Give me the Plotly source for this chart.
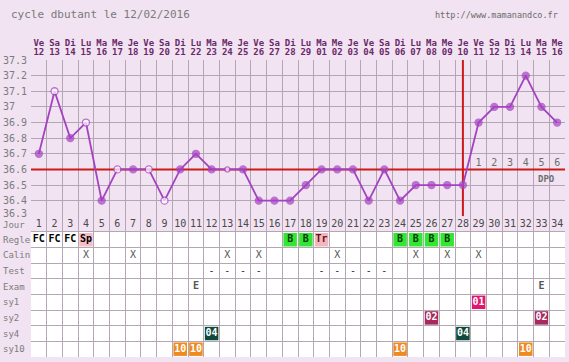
import plotly.graph_objects as go

# ---------------- data ----------------
cycle_days = [1, 2, 3, 4, 5, 6, 7, 8, 9, 10, 11, 12, 13, 14, 15, 16, 17,
              18, 19, 20, 21, 22, 23, 24, 25, 26, 27, 28, 29, 30, 31, 32, 33, 34]
weekdays = ["Ve", "Sa", "Di", "Lu", "Ma", "Me", "Je", "Ve", "Sa", "Di", "Lu", "Ma",
            "Me", "Je", "Ve", "Sa", "Di", "Lu", "Ma", "Me", "Je", "Ve", "Sa", "Di",
            "Lu", "Ma", "Me", "Je", "Ve", "Sa", "Di", "Lu", "Ma", "Me"]
dates = ["12", "13", "14", "15", "16", "17", "18", "19", "20", "21", "22", "23",
         "24", "25", "26", "27", "28", "29", "01", "02", "03", "04", "05", "06",
         "07", "08", "09", "10", "11", "12", "13", "14", "15", "16"]
temps = [36.7, 37.1, 36.8, 36.9, 36.4, 36.6, 36.6, 36.6, 36.4, 36.6, 36.7, 36.6,
         36.6, 36.6, 36.4, 36.4, 36.4, 36.5, 36.6, 36.6, 36.6, 36.4, 36.6, 36.4,
         36.5, 36.5, 36.5, 36.5, 36.9, 37.0, 37.0, 37.2, 37.0, 36.9]
open_marker_days = [2, 4, 6, 8, 9, 13]
temp_ticks = [37.3, 37.2, 37.1, 37.0, 36.9, 36.8, 36.7, 36.6, 36.5, 36.4, 36.3]
temp_ticktext = ["37.3", "37.2", "37.1", "37", "36.9", "36.8", "36.7", "36.6", "36.5", "36.4", "36.3"]
coverline = 36.6
ovulation_day = 28
dpo_days = [29, 30, 31, 32, 33, 34]
dpo_labels = ["1", "2", "3", "4", "5", "6"]

title_text = "cycle dbutant le 12/02/2016"
site_text = "http://www.mamanandco.fr"

row_names = ["Jour", "Regle", "Calin", "Test", "Exam", "sy1", "sy2", "sy4", "sy10"]
regle_days = [1, 2, 3, 4, 17, 18, 19, 24, 25, 26, 27]
regle_vals = ["FC", "FC", "FC", "Sp", "B", "B", "Tr", "B", "B", "B", "B"]
calin_days = [4, 7, 13, 15, 20, 25, 27, 29]
test_days = [12, 13, 14, 15, 19, 20, 21, 22, 23]
exam_days = [11, 33]
sy1_days = [29]
sy2_days = [26, 33]
sy4_days = [12, 28]
sy10_days = [10, 11, 24, 32]

# ---------------- styles ----------------
BG = "#F1E3F1"
GRID = "#B5A6B5"
PURPLE = "#A443C2"
RED = "#CC1A1A"
MONO = "DejaVu Sans Mono"
cell_style = {
    "FC": (None, "#000000"),
    "Sp": ("#F5BEC6", "#000000"),
    "B": ("#33E633", "#0B3D0B"),
    "Tr": ("#F2B6BE", "#6A1010"),
    "X": (None, "#555555"),
    "-": (None, "#333333"),
    "E": (None, "#555555"),
    "01": ("#E0176F", "#FFFFFF"),
    "02": ("#A62A5E", "#FFFFFF"),
    "04": ("#0E4A3D", "#FFFFFF"),
    "10": ("#EE8A1E", "#FFFFFF"),
}

# table cells as (row, days, labels)
table_rows = [
    (1, regle_days, regle_vals),
    (2, calin_days, ["X"] * len(calin_days)),
    (3, test_days, ["-"] * len(test_days)),
    (4, exam_days, ["E"] * len(exam_days)),
    (5, sy1_days, ["01"] * len(sy1_days)),
    (6, sy2_days, ["02"] * len(sy2_days)),
    (7, sy4_days, ["04"] * len(sy4_days)),
    (8, sy10_days, ["10"] * len(sy10_days)),
]

fig = go.Figure()

# red reference lines
fig.add_trace(go.Scatter(x=[cycle_days[0] - 0.5, cycle_days[-1] + 0.5], y=[coverline, coverline],
                         mode="lines", line=dict(color=RED, width=2), hoverinfo="skip",
                         xaxis="x", yaxis="y", showlegend=False))
fig.add_trace(go.Scatter(x=[ovulation_day, ovulation_day], y=[temp_ticks[-1], temp_ticks[0]],
                         mode="lines", line=dict(color=RED, width=2), hoverinfo="skip",
                         xaxis="x", yaxis="y", showlegend=False))

# temperature curve
mfill = ["#FFFFFF" if d in open_marker_days else PURPLE for d in cycle_days]
msize = [5 if d == 13 else 7 for d in cycle_days]
fig.add_trace(go.Scatter(x=cycle_days, y=temps, mode="lines+markers",
                         line=dict(color=PURPLE, width=1.8),
                         marker=dict(color=mfill, size=msize, line=dict(color=PURPLE, width=1.3)),
                         xaxis="x", yaxis="y", showlegend=False))

# DPO labels
fig.add_trace(go.Scatter(x=dpo_days, y=[coverline + 0.035] * len(dpo_days), mode="text",
                         text=dpo_labels, textfont=dict(family=MONO, size=10, color="#6E6E6E"),
                         xaxis="x", yaxis="y", showlegend=False, hoverinfo="skip"))
fig.add_trace(go.Scatter(x=[33.3], y=[coverline - 0.065], mode="text", text=["DPO"],
                         textfont=dict(family=MONO, size=9, color="#6E6E6E", weight="bold"),
                         xaxis="x", yaxis="y", showlegend=False, hoverinfo="skip"))

# table: white background
shapes = [dict(type="rect", xref="x", yref="y2", x0=cycle_days[0] - 0.5, x1=cycle_days[-1] + 0.5,
               y0=0.5, y1=len(row_names) - 0.5, fillcolor="#FFFFFF", line=dict(width=0), layer="below")]

# day number row
fig.add_trace(go.Scatter(x=cycle_days, y=[0] * len(cycle_days), mode="text",
                         text=[str(d) for d in cycle_days],
                         textfont=dict(family=MONO, size=10, color="#4A4A4A"),
                         xaxis="x", yaxis="y2", showlegend=False, hoverinfo="skip"))

ins = 0.07
for row, ds, labs in table_rows:
    colors = []
    for d, lab in zip(ds, labs):
        fill, tcol = cell_style[lab]
        colors.append(tcol)
        if fill:
            shapes.append(dict(type="rect", xref="x", yref="y2", x0=d - 0.5 + ins, x1=d + 0.5 - ins,
                               y0=row - 0.5 + ins, y1=row + 0.5 - ins, fillcolor=fill,
                               line=dict(width=0), layer="below"))
    bold = row in (1, 4, 5, 6, 7, 8)
    fig.add_trace(go.Scatter(x=ds, y=[row] * len(ds), mode="text", text=labs,
                             textfont=dict(family=MONO, size=10, color=colors,
                                           weight="bold" if bold else "normal"),
                             xaxis="x", yaxis="y2", showlegend=False, hoverinfo="skip"))

annotations = []
W = 534.0
H = 297.0
def px_x(px):
    return (px - 31) / W
def px_y(py):
    return (357 - py) / H

for t, lab in zip(temp_ticks, temp_ticktext):
    annotations.append(dict(x=px_x(1), xref="paper", y=t, yref="y", text=lab, showarrow=False,
                            xanchor="left", yanchor="middle",
                            yshift=3 if t == temp_ticks[-1] else 0,
                            font=dict(family=MONO, size=10, color="#7C7C7C")))
for i, name in enumerate(row_names):
    annotations.append(dict(x=px_x(1), xref="paper", y=i, yref="y2", text=name, showarrow=False,
                            xanchor="left", yanchor="middle",
                            yshift=-1 if i == 0 else 0,
                            font=dict(family=MONO, size=9, color="#7C7C7C")))
annotations.append(dict(x=px_x(9), xref="paper", y=px_y(15), yref="paper", text=title_text,
                        showarrow=False, xanchor="left", yanchor="middle",
                        font=dict(family=MONO, size=11, color="#7A7A7A")))
annotations.append(dict(x=px_x(560), xref="paper", y=px_y(15), yref="paper", text=site_text,
                        showarrow=False, xanchor="right", yanchor="middle",
                        font=dict(family=MONO, size=8.5, color="#6A6A6A")))

xrange = [cycle_days[0] - 0.5, cycle_days[-1] + 0.5]
bounds = [d - 0.5 for d in cycle_days] + [cycle_days[-1] + 0.5]
chart_rows = 10
table_n = len(row_names)
split = table_n / (chart_rows + table_n)

fig.update_layout(
    width=569, height=362,
    margin=dict(l=31, r=4, t=60, b=5),
    paper_bgcolor=BG, plot_bgcolor=BG,
    shapes=shapes, annotations=annotations,
    xaxis=dict(range=xrange, tickmode="array", tickvals=bounds, showticklabels=False,
               showgrid=True, gridcolor=GRID, gridwidth=1.2, zeroline=False, ticks="",
               anchor="y", fixedrange=True),
    xaxis2=dict(range=xrange, overlaying="x", side="top", anchor="y", tickmode="array",
                tickvals=cycle_days, ticktext=weekdays, showgrid=False, zeroline=False, ticks="",
                ticklabelstandoff=11,
                tickfont=dict(family=MONO, size=9, color="#6A2A6A", weight="bold")),
    xaxis3=dict(range=xrange, overlaying="x", side="top", anchor="y", tickmode="array",
                tickvals=cycle_days, ticktext=dates, showgrid=False, zeroline=False, ticks="",
                ticklabelstandoff=2,
                tickfont=dict(family=MONO, size=9, color="#6A2A6A", weight="bold")),
    yaxis=dict(domain=[split, 1], range=[temp_ticks[-1], temp_ticks[0]], tickmode="array",
               tickvals=temp_ticks, showticklabels=False, showgrid=True, gridcolor=GRID,
               gridwidth=1.2, zeroline=False, ticks=""),
    yaxis2=dict(domain=[0, split], range=[table_n - 0.5, -0.5], tickmode="array",
                tickvals=[i - 0.5 for i in range(table_n + 1)], showticklabels=False,
                showgrid=True, gridcolor=GRID, gridwidth=1.2, zeroline=False, ticks="",
                anchor="x"),
)

# invisible traces so the overlay date axes are rendered
fig.add_trace(go.Scatter(x=[cycle_days[0]], y=[temp_ticks[0]], xaxis="x2", yaxis="y", mode="markers",
                         marker=dict(opacity=0), showlegend=False, hoverinfo="skip"))
fig.add_trace(go.Scatter(x=[cycle_days[0]], y=[temp_ticks[0]], xaxis="x3", yaxis="y", mode="markers",
                         marker=dict(opacity=0), showlegend=False, hoverinfo="skip"))

fig.write_html("out.html", config={"displayModeBar": False},
               post_script="document.body.style.margin='0px';")
